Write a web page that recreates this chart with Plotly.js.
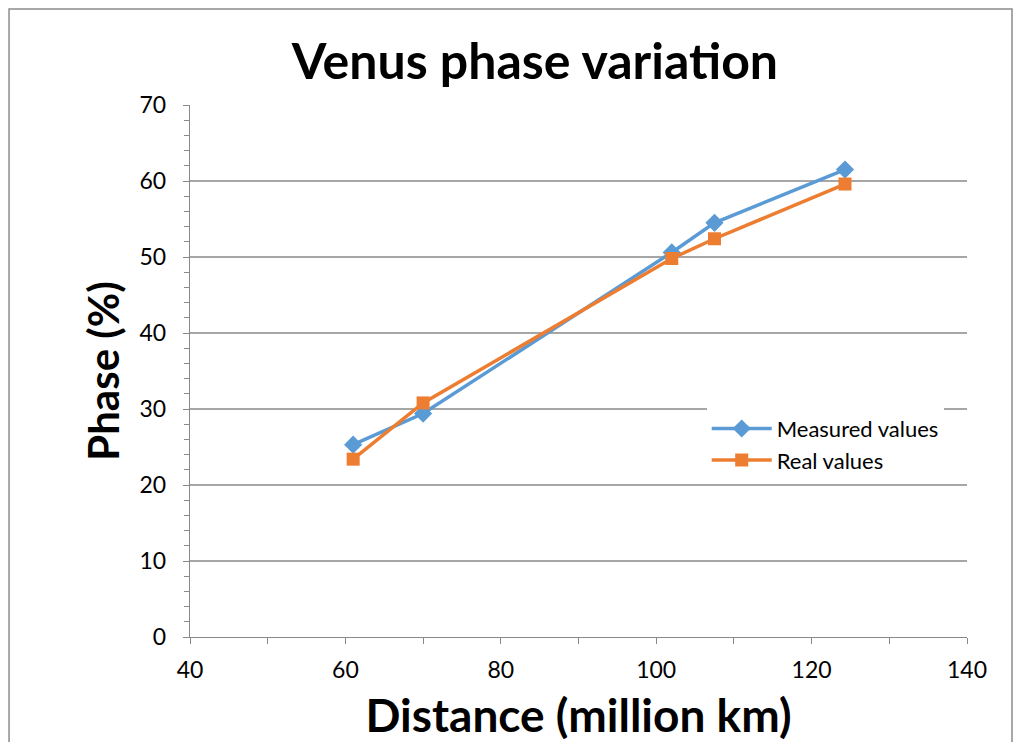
<!DOCTYPE html>
<html>
<head>
<meta charset="utf-8">
<script src="https://cdn.plot.ly/plotly-3.0.1.min.js"></script>
<style>html,body{margin:0;padding:0;background:#fff;}#chart{width:1019px;height:742px;}</style>
</head>
<body>
<div id="chart"></div>
<script>
const distance = [61.0, 70.0, 102.0, 107.5, 124.3];
const measuredPhase = [25.3, 29.4, 50.6, 54.5, 61.5];
const realPhase = [23.4, 30.8, 49.8, 52.4, 59.6];
const seriesNames = ["Measured values", "Real values"];

const font = "Lato, 'Open Sans', 'Liberation Sans', sans-serif";

const traces = [
  {x: distance, y: measuredPhase, name: seriesNames[0], type: 'scatter', mode: 'lines+markers',
   line: {color: '#5B9BD5', width: 3.5}, marker: {symbol: 'diamond', size: 14, color: '#5B9BD5'}},
  {x: distance, y: realPhase, name: seriesNames[1], type: 'scatter', mode: 'lines+markers',
   line: {color: '#ED7D31', width: 3.5}, marker: {symbol: 'square', size: 13, color: '#ED7D31'}}
];

const layout = {
  width: 1019, height: 742,
  margin: {l: 190, r: 52, t: 105, b: 105},
  paper_bgcolor: '#fff', plot_bgcolor: '#fff',
  font: {family: font, color: '#000', size: 22},
  title: {text: '<b>Venus phase variation</b>', font: {size: 50, family: font, color: '#000'},
          x: 0.525, xanchor: 'center', y: 0.917, yanchor: 'middle'},
  showlegend: true,
  legend: {x: 0.665, y: 0.431, xanchor: 'left', yanchor: 'top', bgcolor: '#fff',
           font: {size: 22, family: font, color: '#000'}, tracegroupgap: 0, itemwidth: 60},
  xaxis: {range: [40, 140], dtick: 20, tick0: 40, showgrid: false, zeroline: false,
          showline: true, linecolor: '#898989', linewidth: 1.3,
          ticks: 'outside', ticklen: 6, tickcolor: '#898989', tickfont: {size: 23}, ticklabelstandoff: 6,
          minor: {dtick: 10, ticks: 'outside', ticklen: 6, tickcolor: '#898989', showgrid: false},
          title: {text: '<b>Distance (million km)</b>', font: {size: 46, family: font}, standoff: 18}},
  yaxis: {range: [0, 70], dtick: 10, showgrid: true, gridcolor: '#a6a6a6', gridwidth: 1.3, zeroline: false,
          showline: true, linecolor: '#898989', linewidth: 1.3,
          ticks: 'outside', ticklen: 6, tickcolor: '#898989', tickfont: {size: 23}, ticklabelstandoff: 12,
          minor: {dtick: 2, ticks: 'outside', ticklen: 5, tickcolor: '#898989', showgrid: false},
          title: {text: '<b>Phase (%)</b>', font: {size: 42, family: font}, standoff: 6}},
  shapes: [{type: 'rect', xref: 'paper', yref: 'paper', x0: -0.2329, x1: 1.0579, y0: -0.22, y1: 1.1805,
            line: {color: '#8c8c8c', width: 1.5}, fillcolor: 'rgba(0,0,0,0)', layer: 'below'}]
};

Plotly.newPlot('chart', traces, layout, {displayModeBar: false, staticPlot: true});
</script>
</body>
</html>
